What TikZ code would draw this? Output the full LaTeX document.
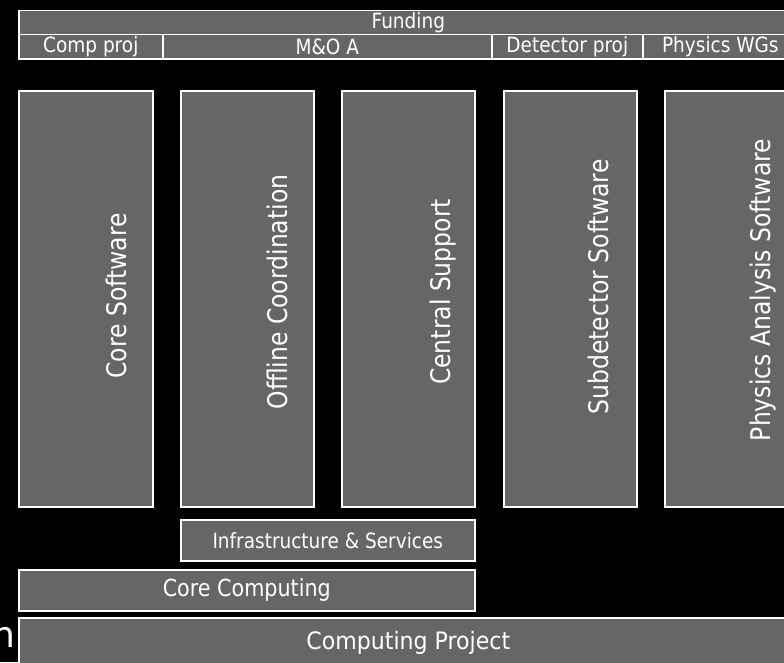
\documentclass[tikz,border=0pt]{standalone}
\usepackage{graphicx}
\usepackage{fontspec}
\setmainfont{DejaVu Sans}
\usetikzlibrary{calc}
\definecolor{boxgray}{HTML}{666666}
\newcommand{\sqz}[3]{{\fontsize{#1}{#1}\selectfont\scalebox{#2}[1]{#3}}}
\begin{document}
\begin{tikzpicture}[x=1pt,y=-1pt,
  box/.style={draw=white, fill=boxgray, line width=1.6pt, inner sep=0pt, text=white, anchor=north west},
  vtext/.style={text=white, rotate=90, anchor=base, inner sep=0pt}]
\useasboundingbox (0,0) rectangle (784,662);
\fill[black] (0,0) rectangle (784,662);
\clip (0,0) rectangle (784,662);
% header
\node[box, minimum width=779pt, minimum height=24pt] (fund) at (18,9.5) {\sqz{21}{0.88}{Funding}};
\node[box, minimum width=144pt, minimum height=24.5pt] (comp) at (18,33.5) {\sqz{21}{0.88}{Comp proj}};
\node[box, minimum width=329pt, minimum height=24.5pt] (mo) at (162,33.5) {\sqz{21}{0.88}{M\&O A}};
\node[box, minimum width=151pt, minimum height=24.5pt] (det) at (491,33.5) {\sqz{21}{0.88}{Detector proj}};
\node[box, minimum width=155pt, minimum height=24.5pt] (wgs) at (642,33.5) {\sqz{21}{0.88}{Physics WGs}};
% columns
\node[box, minimum width=134pt, minimum height=416pt] (core) at (18,90) {};
\node[box, minimum width=133pt, minimum height=416pt] (offl) at (180,90) {};
\node[box, minimum width=133pt, minimum height=416pt] (cent) at (341,90) {};
\node[box, minimum width=133pt, minimum height=416pt] (subd) at (503,90) {};
\node[box, minimum width=133pt, minimum height=416pt] (phys) at (664,90) {};
\node[vtext] (coret) at (126,296) {\sqz{27}{0.87}{Core Software}};
\node[vtext] (offlt) at (287,292) {\sqz{27}{0.87}{Offline Coordination}};
\node[vtext] (centt) at (450,292) {\sqz{27}{0.87}{Central Support}};
\node[vtext] (subdt) at (608,287) {\sqz{27}{0.87}{Subdetector Software}};
\node[vtext] (physt) at (770,290) {\sqz{27}{0.87}{Physics Analysis Software}};
% bottom
\node[box, minimum width=294pt, minimum height=41pt] (infra) at (180,519) {\sqz{21}{0.88}{Infrastructure \& Services}};
\node[box, minimum width=456pt, minimum height=41pt] (ccomp) at (18,569) {\sqz{23.5}{0.88}{Core Computing}};
\node[box, minimum width=779pt, minimum height=50pt] (proj) at (18,617) {\sqz{24}{0.92}{Computing Project}};
\node[text=white, anchor=base east, inner sep=0pt] (cut) at (16,647) {\fontsize{36}{36}\selectfont n};
\end{tikzpicture}
\end{document}
